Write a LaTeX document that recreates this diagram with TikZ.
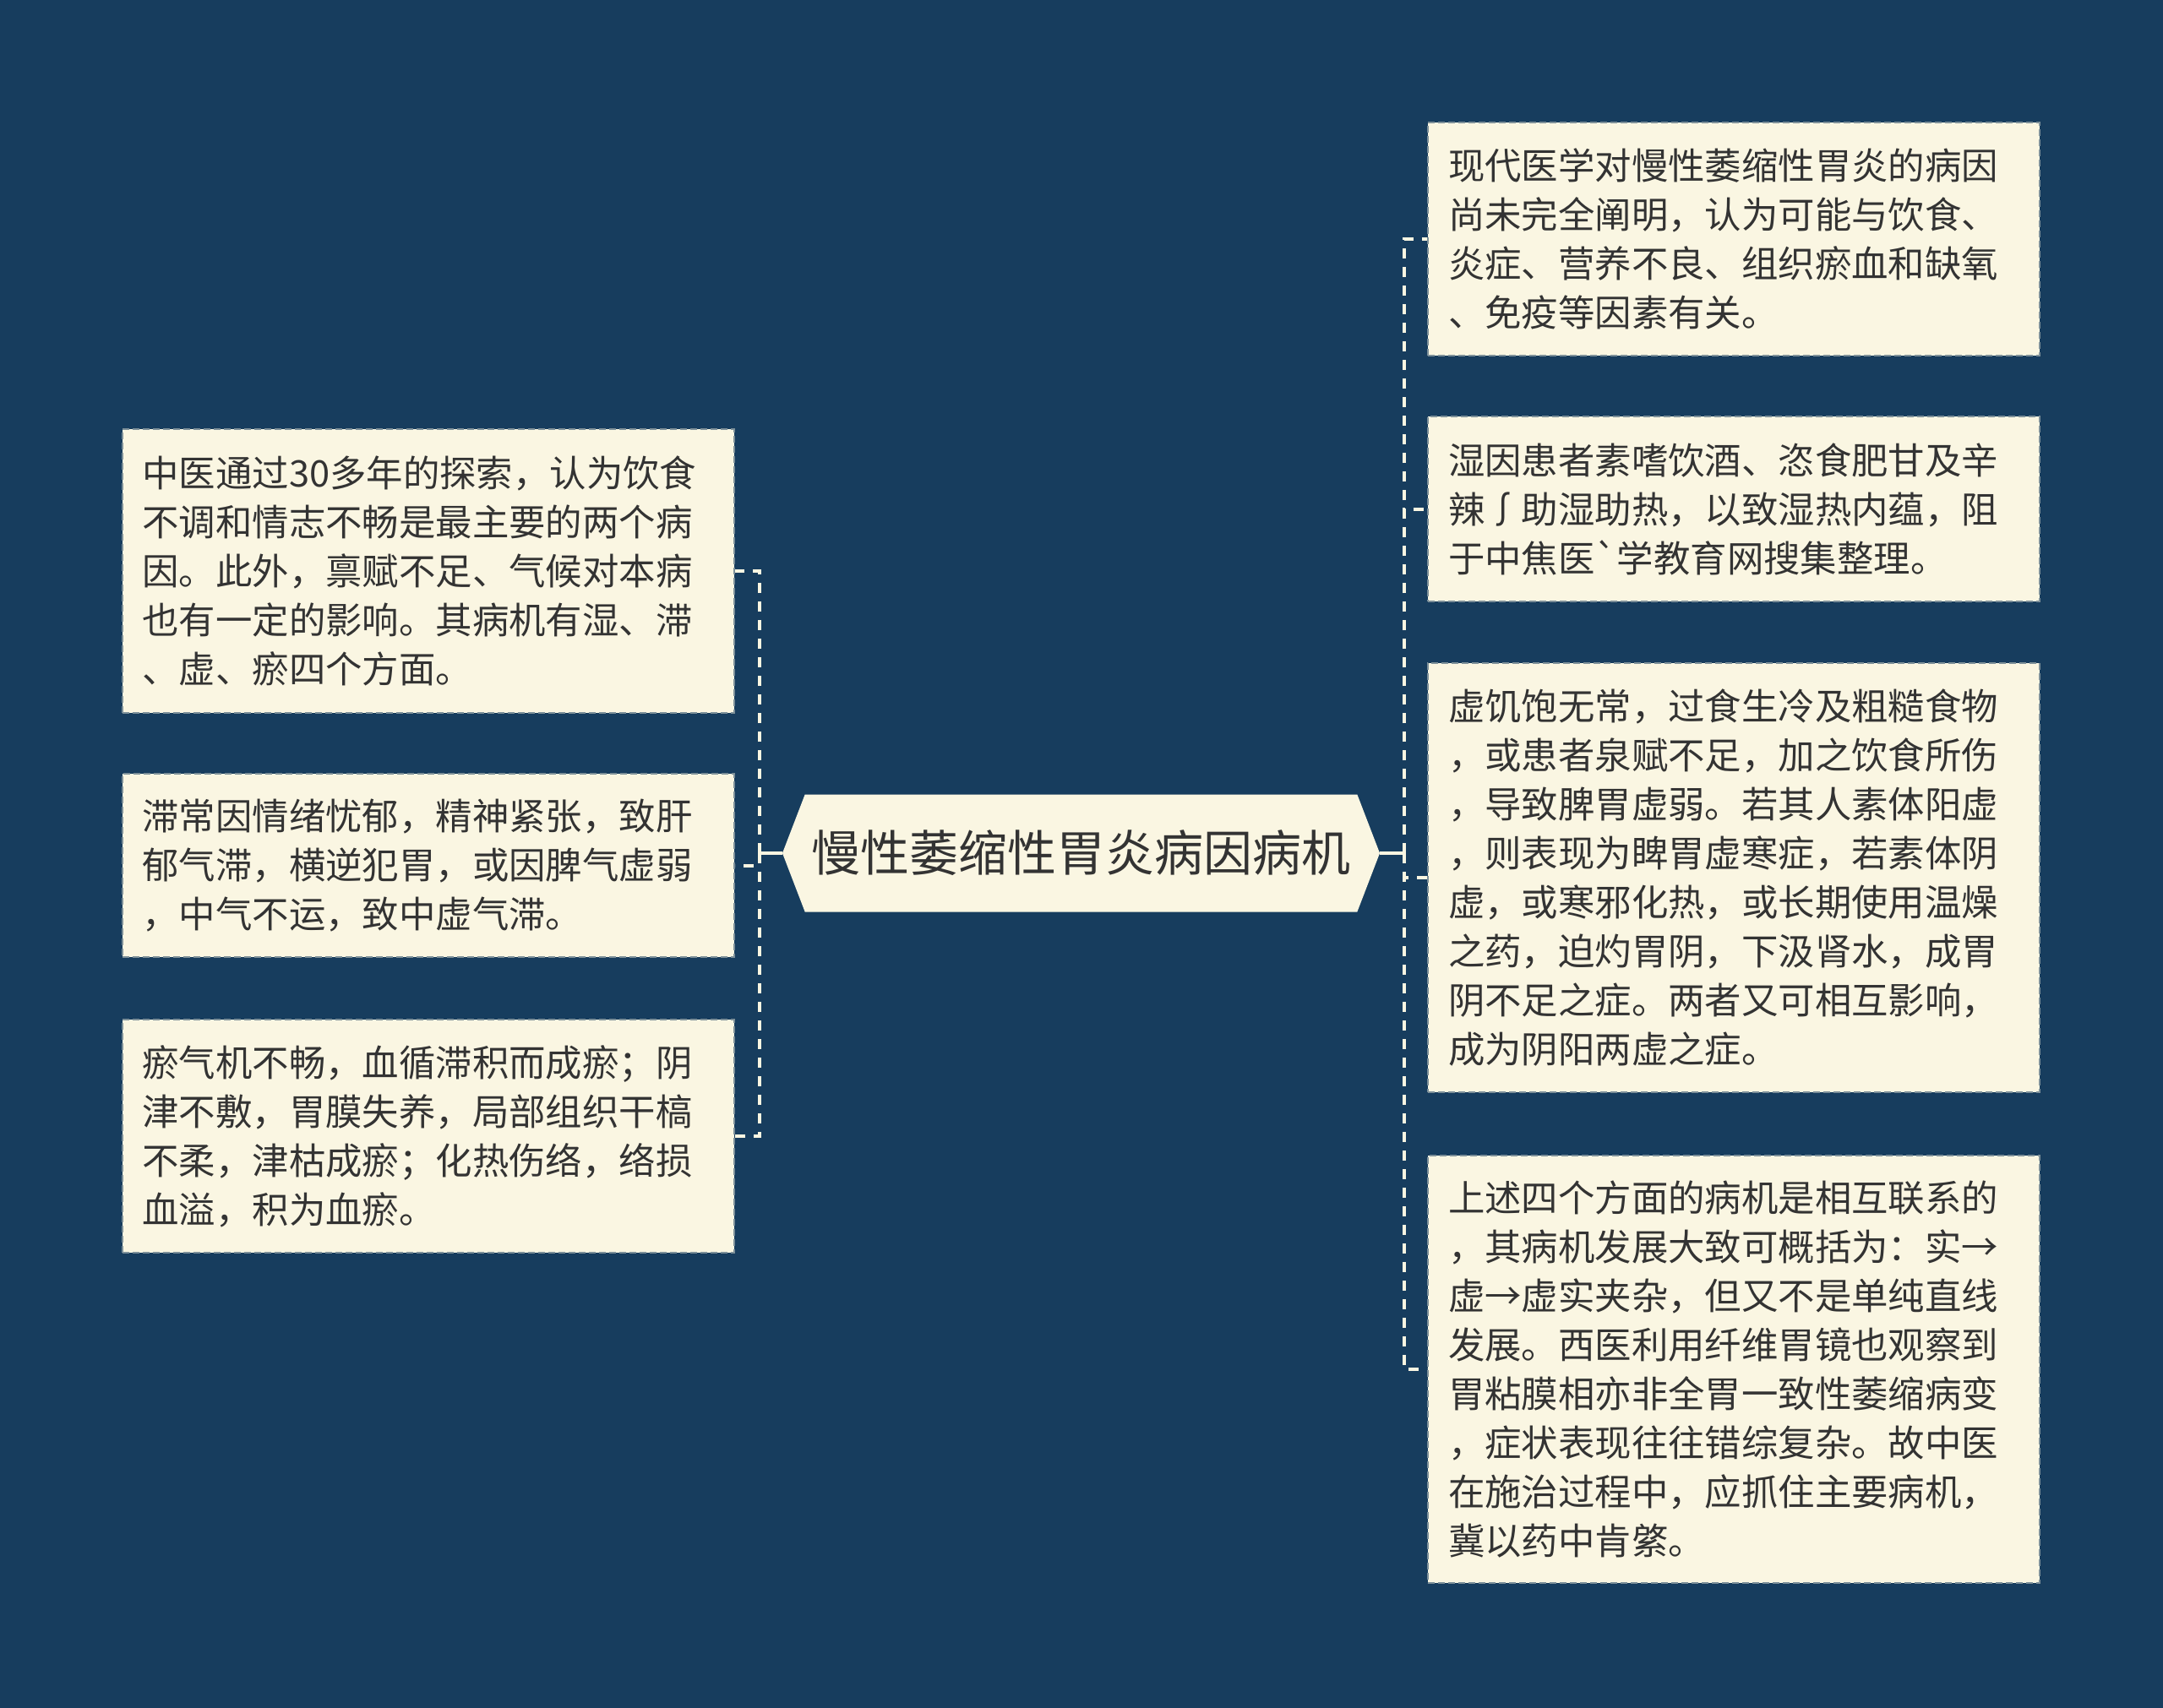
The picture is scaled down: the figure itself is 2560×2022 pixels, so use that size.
\documentclass[tikz,border=0pt]{standalone}
\usepackage{fontspec}
\newfontfamily\cjkfont{Noto Sans CJK SC}
\usetikzlibrary{shapes.symbols}

\definecolor{mapbg}{RGB}{23,61,94}
\definecolor{cream}{RGB}{250,246,226}
\definecolor{inktxt}{RGB}{51,51,51}

\tikzset{
  cause/.style={fill=cream, draw=mapbg!55!cream, line width=1pt, dash pattern=on 4pt off 2pt,
    text=inktxt, align=left, inner xsep=12pt, inner ysep=0pt, text width=338pt,
    font=\cjkfont\fontsize{21.7}{29}\selectfont},
  topic/.style={signal, signal to=west and east, signal pointer angle=138, fill=cream, text=inktxt,
    inner sep=0pt, font=\cjkfont\fontsize{29}{34}\selectfont},
  link/.style={draw=cream, line width=2pt, dash pattern=on 6pt off 5pt},
  stub/.style={draw=cream, line width=2pt}
}

\begin{document}
\begin{tikzpicture}[x=0.5pt,y=0.5pt,yscale=-1]
%background
\fill[mapbg] (0,0) rectangle (2560,2022);
\useasboundingbox (0,0) rectangle (2560,2022);

%Main topic
\node[topic, minimum width=353.5pt, minimum height=69.5pt] (topic) at (1279.5,1010) {慢性萎缩性胃炎病因病机};

%Left side
\node[cause, minimum height=168pt] (dampL) at (506.5,676) {中医通过30多年的探索，认为饮食\\不调和情志不畅是最主要的两个病\\因。此外，禀赋不足、气候对本病\\也有一定的影响。其病机有湿、滞\\、虚、瘀四个方面。};
\node[cause, minimum height=108.5pt] (stag) at (506.5,1024.5) {滞常因情绪忧郁，精神紧张，致肝\\郁气滞，横逆犯胃，或因脾气虚弱\\，中气不运，致中虚气滞。};
\node[cause, minimum height=138pt] (stasis) at (506.5,1345) {瘀气机不畅，血循滞积而成瘀；阴\\津不敷，胃膜失养，局部组织干槁\\不柔，津枯成瘀；化热伤络，络损\\血溢，积为血瘀。};

%Right side
\node[cause, minimum height=138pt] (modern) at (2052,283) {现代医学对慢性萎缩性胃炎的病因\\尚未完全阐明，认为可能与饮食、\\炎症、营养不良、组织瘀血和缺氧\\、免疫等因素有关。};
\node[cause, minimum height=109.5pt] (damp) at (2052,602.5) {湿因患者素嗜饮酒、恣食肥甘及辛\\辣∫助湿助热，以致湿热内蕴，阻\\于中焦医`学教育网搜集整理。};
\node[cause, minimum height=254pt] (defic) at (2052,1039) {虚饥饱无常，过食生冷及粗糙食物\\，或患者泉赋不足，加之饮食所伤\\，导致脾胃虚弱。若其人素体阳虚\\，则表现为睥胃虚寒症，若素体阴\\虚，或寒邪化热，或长期使用温燥\\之药，迫灼胃阴，下汲肾水，成胃\\阴不足之症。两者又可相互影响，\\成为阴阳两虚之症。};
\node[cause, minimum height=253pt] (summary) at (2052,1621) {上述四个方面的病机是相互联系的\\，其病机发展大致可概括为：实→\\虚→虚实夹杂，但又不是单纯直线\\发展。西医利用纤维胃镜也观察到\\胃粘膜相亦非全胃一致性萎缩病变\\，症状表现往往错综复杂。故中医\\在施治过程中，应抓住主要病机，\\冀以药中肯綮。};

%Connectors
\coordinate (jl) at (899,1010);
\coordinate (jr) at (1662,1010);
\draw[stub] (topic.west) -- (jl);
\draw[stub] (topic.east) -- (jr);
\draw[link] (jl) |- (dampL.east);
\draw[link] (jl) |- (stag.east);
\draw[link] (jl) |- (stasis.east);
\draw[link] (jr) |- (modern.west);
\draw[link] (jr) |- (damp.west);
\draw[link] (jr) |- (defic.west);
\draw[link] (jr) |- (summary.west);

\end{tikzpicture}
\end{document}
